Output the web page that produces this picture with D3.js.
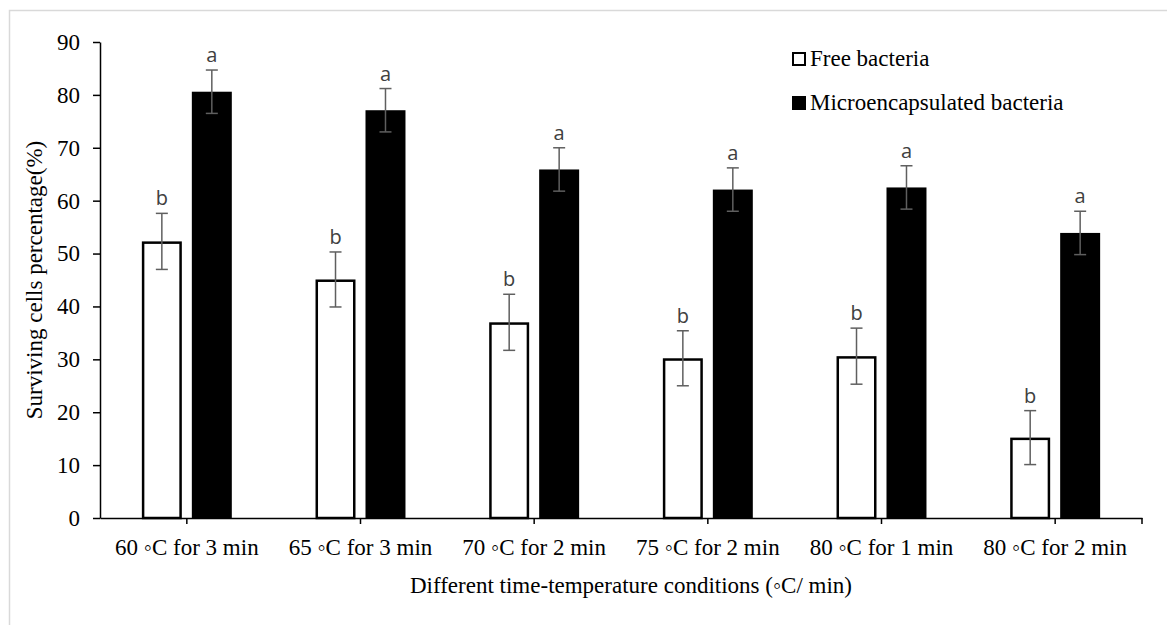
<!DOCTYPE html>
<html>
<head>
<meta charset="utf-8">
<script src="https://cdn.jsdelivr.net/npm/d3@7"></script>
<style>
  body { margin: 0; background: #fff; }
  svg { display: block; }
</style>
</head>
<body>
<svg id="chart" width="1167" height="625"></svg>
<script>
const categories = ["60 ◦C for 3 min", "65 ◦C for 3 min", "70 ◦C for 2 min", "75 ◦C for 2 min", "80 ◦C for 1 min", "80 ◦C for 2 min"];
const freeValues = [52.3, 45.1, 37.0, 30.2, 30.6, 15.2];
const freeErrors = [5.3, 5.2, 5.3, 5.2, 5.3, 5.1];
const freeLetters = ["b", "b", "b", "b", "b", "b"];
const microValues = [80.6, 77.1, 65.9, 62.1, 62.5, 53.9];
const microErrors = [4.1, 4.1, 4.1, 4.1, 4.1, 4.1];
const microLetters = ["a", "a", "a", "a", "a", "a"];
const seriesNames = ["Free bacteria", "Microencapsulated bacteria"];
const yTicks = [0, 10, 20, 30, 40, 50, 60, 70, 80, 90];

const serif = "'Liberation Serif', 'Times New Roman', serif";
const svg = d3.select("#chart");

// light outer frame of the chart area
svg.append("rect")
  .attr("x", 9.5).attr("y", 10.5)
  .attr("width", 1300).attr("height", 800)
  .attr("fill", "none")
  .attr("stroke", "#d9d9d9")
  .attr("stroke-width", 1.5);

const SIZE = { left: 100, right: 1142, top: 42, bottom: 518 };

const x0 = d3.scaleBand()
  .domain(categories)
  .range([SIZE.left, SIZE.right])
  .paddingInner(0.482)
  .paddingOuter(0.241);

const x1 = d3.scaleBand()
  .domain(["free", "micro"])
  .range([0, x0.bandwidth()])
  .paddingInner(0.2);

const y = d3.scaleLinear()
  .domain([0, 90])
  .range([SIZE.bottom, SIZE.top]);

const rows = categories.map((c, i) => ([
  { cat: c, key: "free", value: freeValues[i], err: freeErrors[i], letter: freeLetters[i] },
  { cat: c, key: "micro", value: microValues[i], err: microErrors[i], letter: microLetters[i] }
])).flat();

// bars
const sw = 2.5;
svg.append("g").selectAll("rect")
  .data(rows)
  .join("rect")
  .attr("x", d => x0(d.cat) + x1(d.key) + (d.key === "free" ? sw / 2 : 0))
  .attr("y", d => y(d.value) + (d.key === "free" ? sw / 2 : 0))
  .attr("width", d => x1.bandwidth() - (d.key === "free" ? sw : 0))
  .attr("height", d => y(0) - y(d.value) - (d.key === "free" ? sw / 2 : 0))
  .attr("fill", d => d.key === "free" ? "#fff" : "#000")
  .attr("stroke", d => d.key === "free" ? "#000" : "none")
  .attr("stroke-width", sw);

// error bars
const errG = svg.append("g")
  .attr("stroke", "#5f5f5f")
  .attr("stroke-width", 1.5);
const cx = d => x0(d.cat) + x1(d.key) + x1.bandwidth() / 2;
const cap = 6;

errG.selectAll(".stem")
  .data(rows)
  .join("line")
  .attr("class", "stem")
  .attr("x1", cx).attr("x2", cx)
  .attr("y1", d => y(d.value + d.err))
  .attr("y2", d => y(d.value - d.err));

errG.selectAll(".capTop")
  .data(rows)
  .join("line")
  .attr("class", "capTop")
  .attr("x1", d => cx(d) - cap).attr("x2", d => cx(d) + cap)
  .attr("y1", d => y(d.value + d.err)).attr("y2", d => y(d.value + d.err));

errG.selectAll(".capBot")
  .data(rows)
  .join("line")
  .attr("class", "capBot")
  .attr("x1", d => cx(d) - cap).attr("x2", d => cx(d) + cap)
  .attr("y1", d => y(d.value - d.err)).attr("y2", d => y(d.value - d.err));

// significance letters
svg.append("g").selectAll("text")
  .data(rows)
  .join("text")
  .attr("x", cx)
  .attr("y", d => y(d.value + d.err) - 8)
  .attr("text-anchor", "middle")
  .style("font-family", "'Open Sans', 'Noto Sans', sans-serif")
  .style("font-size", "20px")
  .style("fill", "#404040")
  .text(d => d.letter);

// y axis
const yAxis = svg.append("g")
  .attr("transform", `translate(${SIZE.left},0)`)
  .call(d3.axisLeft(y).tickValues(yTicks).tickSize(7).tickSizeOuter(0).tickPadding(13));
yAxis.select(".domain").attr("stroke", "#000").attr("stroke-width", 1.5);
yAxis.selectAll(".tick line").attr("stroke", "#000").attr("stroke-width", 1.5);
yAxis.selectAll(".tick text")
  .style("font-family", serif)
  .style("font-size", "23px")
  .style("fill", "#000");

// x axis
const xAxis = svg.append("g")
  .attr("transform", `translate(0,${SIZE.bottom})`)
  .call(d3.axisBottom(x0).tickSize(6).tickSizeOuter(0).tickPadding(15));
xAxis.select(".domain").attr("stroke", "#000").attr("stroke-width", 1.5);
xAxis.selectAll(".tick line").attr("stroke", "#000").attr("stroke-width", 1.5);
xAxis.selectAll(".tick text")
  .style("font-family", serif)
  .style("font-size", "23px")
  .style("fill", "#000");
xAxis.append("line")
  .attr("x1", SIZE.right).attr("x2", SIZE.right)
  .attr("y1", 0).attr("y2", 6)
  .attr("stroke", "#000").attr("stroke-width", 1.5);

// axis titles
svg.append("text")
  .attr("transform", `translate(42,${(SIZE.top + SIZE.bottom) / 2}) rotate(-90)`)
  .attr("text-anchor", "middle")
  .style("font-family", serif)
  .style("font-size", "23px")
  .text("Surviving cells percentage(%)");

svg.append("text")
  .attr("x", 631)
  .attr("y", 593)
  .attr("text-anchor", "middle")
  .style("font-family", serif)
  .style("font-size", "23px")
  .text("Different time-temperature conditions (◦C/ min)");

// legend
const legend = svg.append("g").attr("transform", "translate(792,0)");
seriesNames.forEach((name, i) => {
  const ly = 66 + i * 44;
  legend.append("rect")
    .attr("x", i === 0 ? 1 : 0).attr("y", ly - 14 + (i === 0 ? 1 : 0))
    .attr("width", i === 0 ? 12 : 14).attr("height", i === 0 ? 12 : 14)
    .attr("fill", i === 0 ? "#fff" : "#000")
    .attr("stroke", "#000")
    .attr("stroke-width", i === 0 ? 2 : 0);
  legend.append("text")
    .attr("x", 18).attr("y", ly)
    .style("font-family", serif)
    .style("font-size", "23px")
    .text(name);
});
</script>
</body>
</html>
